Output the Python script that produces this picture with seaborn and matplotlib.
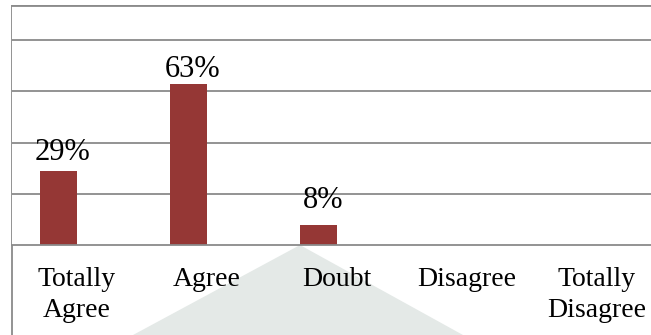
import matplotlib
matplotlib.use("Agg")
import pandas as pd
import seaborn as sns
import matplotlib.pyplot as plt
from matplotlib.patches import Polygon, Rectangle

# data
categories = ["Totally\nAgree", "Agree", "Doubt", "Disagree", "Totally\nDisagree"]
answers = [29, 63, 8, 0, 0]
empty_series = [0, 0, 0, 0, 0]   # second (empty) series that offsets the bars
value_labels = ["29%", "63%", "8%", "", ""]
label_lift = [8, 5, 12, 0, 0]     # points between bar top and label baseline

df = pd.DataFrame({
    "categoria": categories * 2,
    "serie": ["S1"] * len(categories) + ["S2"] * len(categories),
    "valor": answers + empty_series,
})

sns.set_style("white")
plt.rcParams["font.family"] = ["Liberation Serif", "DejaVu Serif"]

grid_col = "#8a8a8a"
fig = plt.figure(figsize=(6.51, 3.35), dpi=100, facecolor="white")
ax = fig.add_axes([12 / 651, 90 / 335, 650 / 651, 239 / 335])

sns.barplot(data=df, x="categoria", y="valor", hue="serie", order=categories,
            palette=["#953735", "#4f81bd"], saturation=1, width=0.563, gap=0,
            linewidth=0, legend=False, ax=ax)

ax.set_xlim(-0.5, 4.5)
ax.set_ylim(0, 93.4)
ax.set_yticks([20, 40, 60, 80])
ax.set_yticklabels([])
ax.tick_params(axis="y", length=0)
ax.yaxis.grid(True, color=grid_col, linewidth=1.3)
ax.set_axisbelow(True)
ax.set_xlabel("")
ax.set_ylabel("")

for side in ["left", "right"]:
    ax.spines[side].set_visible(False)
ax.spines["top"].set_color(grid_col)
ax.spines["top"].set_linewidth(1.3)
ax.spines["bottom"].set_color(grid_col)
ax.spines["bottom"].set_linewidth(1.3)

ax.tick_params(axis="x", which="major", length=0, pad=16, labelsize=20, colors="black")
ax.set_xticks([0.5, 1.5, 2.5, 3.5], minor=True)
ax.tick_params(axis="x", which="minor", length=5, width=1.3, color=grid_col)
for lbl in ax.get_xticklabels():
    lbl.set_linespacing(1.3)

# data labels above the first series
for bar, txt, lift in zip(ax.containers[0], value_labels, label_lift):
    if not txt:
        continue
    ax.annotate(txt, (bar.get_x() + bar.get_width() / 2, bar.get_height()),
                xytext=(3, lift), textcoords="offset points",
                ha="center", va="baseline", fontsize=22, color="black")

# outer chart frame (left and top edges)
fig.patches.append(Rectangle((12 / 651, -0.2), 1.0, 1.2 - 6 / 335, transform=fig.transFigure,
                             fill=False, edgecolor=grid_col, linewidth=1.3, zorder=-1))
# grey shape overlapping the bottom of the chart
fig.patches.append(Polygon([(133 / 651, 0), (300 / 651, 90 / 335), (463 / 651, 0)],
                           closed=True, transform=fig.transFigure,
                           facecolor="#e4e9e7", edgecolor="none", zorder=-2))

fig.savefig("out.png", dpi=100)
